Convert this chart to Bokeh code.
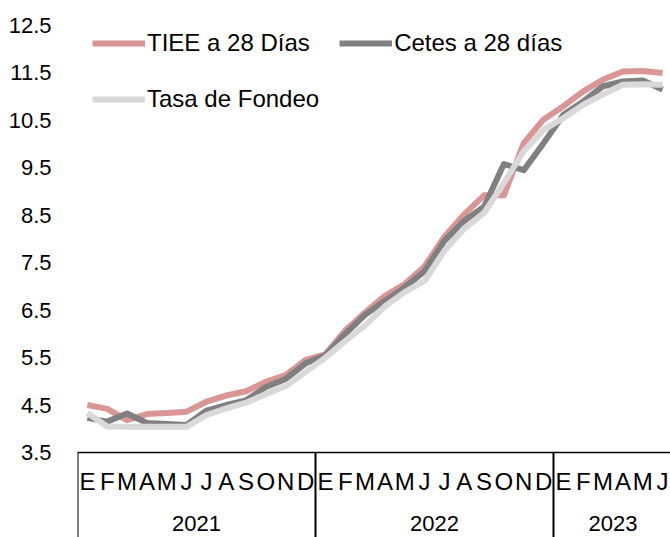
from bokeh.plotting import figure
from bokeh.models import Range1d, FixedTicker, Legend, LegendItem, Span
from bokeh.core.properties import value
from bokeh.embed import file_html
from bokeh.resources import INLINE

# ---- data ----
month_labels = ["E", "F", "M", "A", "M", "J", "J", "A", "S", "O", "N", "D",
                "E", "F", "M", "A", "M", "J", "J", "A", "S", "O", "N", "D",
                "E", "F", "M", "A", "M", "J"]
year_labels = ["2021", "2022", "2023"]
months_per_year = [12, 12, 6]

tiee = [4.50, 4.42, 4.18, 4.31, 4.33, 4.36, 4.57, 4.70, 4.79, 4.99, 5.13, 5.45,
        5.57, 6.07, 6.45, 6.80, 7.05, 7.42, 8.05, 8.52, 8.92, 8.92, 10.02, 10.52,
        10.80, 11.11, 11.36, 11.53, 11.54, 11.50]
cetes = [4.23, 4.15, 4.32, 4.12, 4.10, 4.08, 4.38, 4.50, 4.60, 4.88, 5.05, 5.38,
         5.55, 6.00, 6.40, 6.70, 6.98, 7.32, 7.96, 8.38, 8.68, 9.58, 9.45, 10.02,
         10.62, 10.90, 11.22, 11.32, 11.34, 11.15]
fondeo = [4.33, 4.05, 4.04, 4.04, 4.04, 4.04, 4.29, 4.43, 4.55, 4.73, 4.90, 5.20,
          5.50, 5.85, 6.18, 6.58, 6.88, 7.12, 7.75, 8.22, 8.55, 9.18, 9.85, 10.30,
          10.55, 10.83, 11.05, 11.25, 11.26, 11.25]
y_ticks = [3.5, 4.5, 5.5, 6.5, 7.5, 8.5, 9.5, 10.5, 11.5, 12.5]

FONT = "Liberation Sans"
n = len(month_labels)
x = [i + 0.5 for i in range(n)]

y_bottom = 1.708
y_top = 13.027
y_axis_base = y_ticks[0]

p = figure(width=670, height=537, output_backend="svg", toolbar_location=None,
           x_range=Range1d(0, 29.9), y_range=Range1d(y_bottom, y_top),
           min_border_left=77, min_border_right=0, min_border_top=0,
           min_border_bottom=0, x_axis_location=None)
p.outline_line_color = None
p.xgrid.visible = False
p.ygrid.visible = False
p.background_fill_color = "white"
p.border_fill_color = "white"

ax = p.yaxis[0]
ax.ticker = FixedTicker(ticks=y_ticks)
ax.axis_line_color = None
ax.major_tick_line_color = None
ax.minor_tick_line_color = None
ax.major_tick_out = 0
ax.major_tick_in = 0
ax.major_label_standoff = 26
ax.major_label_text_font = FONT
ax.major_label_text_font_size = "22px"
ax.major_label_text_color = "black"

r1 = p.line(x, tiee, line_color="#DA9694", line_width=6, line_join="round")
r2 = p.line(x, cetes, line_color="#808080", line_width=6, line_join="round")
r3 = p.line(x, fondeo, line_color="#D9D9D9", line_width=6, line_join="round")

# category box below the plot area
p.add_layout(Span(location=y_axis_base, dimension="width", line_color="black", line_width=1.5))
bounds = []
centers = []
acc = 0
for m in months_per_year:
    bounds.append(acc)
    centers.append(acc + m / 2)
    acc += m
p.segment(x0=bounds, y0=[y_axis_base] * len(bounds), x1=bounds, y1=[y_bottom] * len(bounds),
          line_color="black", line_width=2)

p.text(x=x, y=[2.889] * n, text=month_labels, text_font=value(FONT),
       text_font_size="24px", text_align="center", text_baseline="middle", text_color="black")
p.text(x=centers, y=[2.0] * len(centers), text=year_labels, text_font=value(FONT),
       text_font_size="22px", text_align="center", text_baseline="middle", text_color="black")

legend = Legend(items=[LegendItem(label="TIEE a 28 Días", renderers=[r1]),
                       LegendItem(label="Cetes a 28 días", renderers=[r2]),
                       LegendItem(label="Tasa de Fondeo", renderers=[r3])],
                location=(15, 420), orientation="horizontal", ncols=2,
                glyph_width=53, glyph_height=36, label_height=36, label_standoff=2,
                spacing=20, padding=0, margin=0, border_line_color=None,
                background_fill_alpha=0, label_text_font=FONT,
                label_text_font_size="24px", label_text_color="black")
p.add_layout(legend)

open("out.html", "w").write(file_html(p, INLINE))
